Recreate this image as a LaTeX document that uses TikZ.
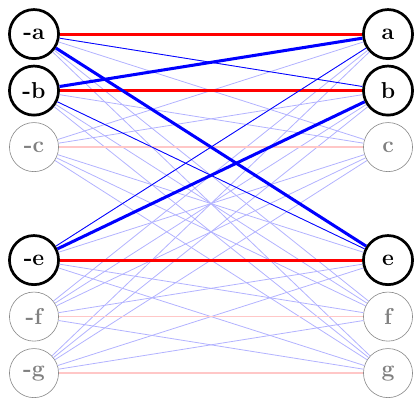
\documentclass[tikz,border=0pt]{standalone}
\usepackage{tikz}
\usetikzlibrary{positioning}

\begin{document}
\begin{tikzpicture}[
    vertex/.style={circle, draw, minimum size=1.08cm, inner sep=0pt, font=\Large\bfseries},
    strong/.style={vertex, line width=1.7pt},
    faint/.style={vertex, draw=black!45, text=black!50},
    weak/.style={blue!30, line width=0.5pt},
    pick/.style={blue, line width=1.9pt},
    cross/.style={blue, line width=0.5pt},
    match/.style={red, line width=1.9pt},
    nomatch/.style={red!22, line width=1pt}
]
    \useasboundingbox (0,0) rectangle (9.13,-8.756);

    % two columns of vertices, row 3 (d) left out
    \foreach \n/\r/\s in {a/0/strong, b/1/strong, c/2/faint, e/4/strong, f/5/faint, g/6/faint} {
        \node[\s] (l\n) at (0.748, {-0.75-1.243*\r}) {-\n};
        \node[\s] (r\n) at (8.536, {-0.75-1.243*\r}) {\n};
    }

    % all the other pairs
    \foreach \i in {a,b,c,e,f,g}
        \foreach \j in {a,b,c,e,f,g} {
            \ifx\i\j\else \draw[weak] (l\i) -- (r\j); \fi
        }

    \foreach \i in {c,f,g}
        \draw[nomatch] (l\i) -- (r\i);
    \foreach \i in {a,b,e}
        \draw[match] (l\i) -- (r\i);

    \foreach \i/\j in {a/b, b/e, e/a}
        \draw[cross] (l\i) -- (r\j);
    \foreach \i/\j in {a/e, b/a, e/b}
        \draw[pick] (l\i) -- (r\j);
\end{tikzpicture}
\end{document}
